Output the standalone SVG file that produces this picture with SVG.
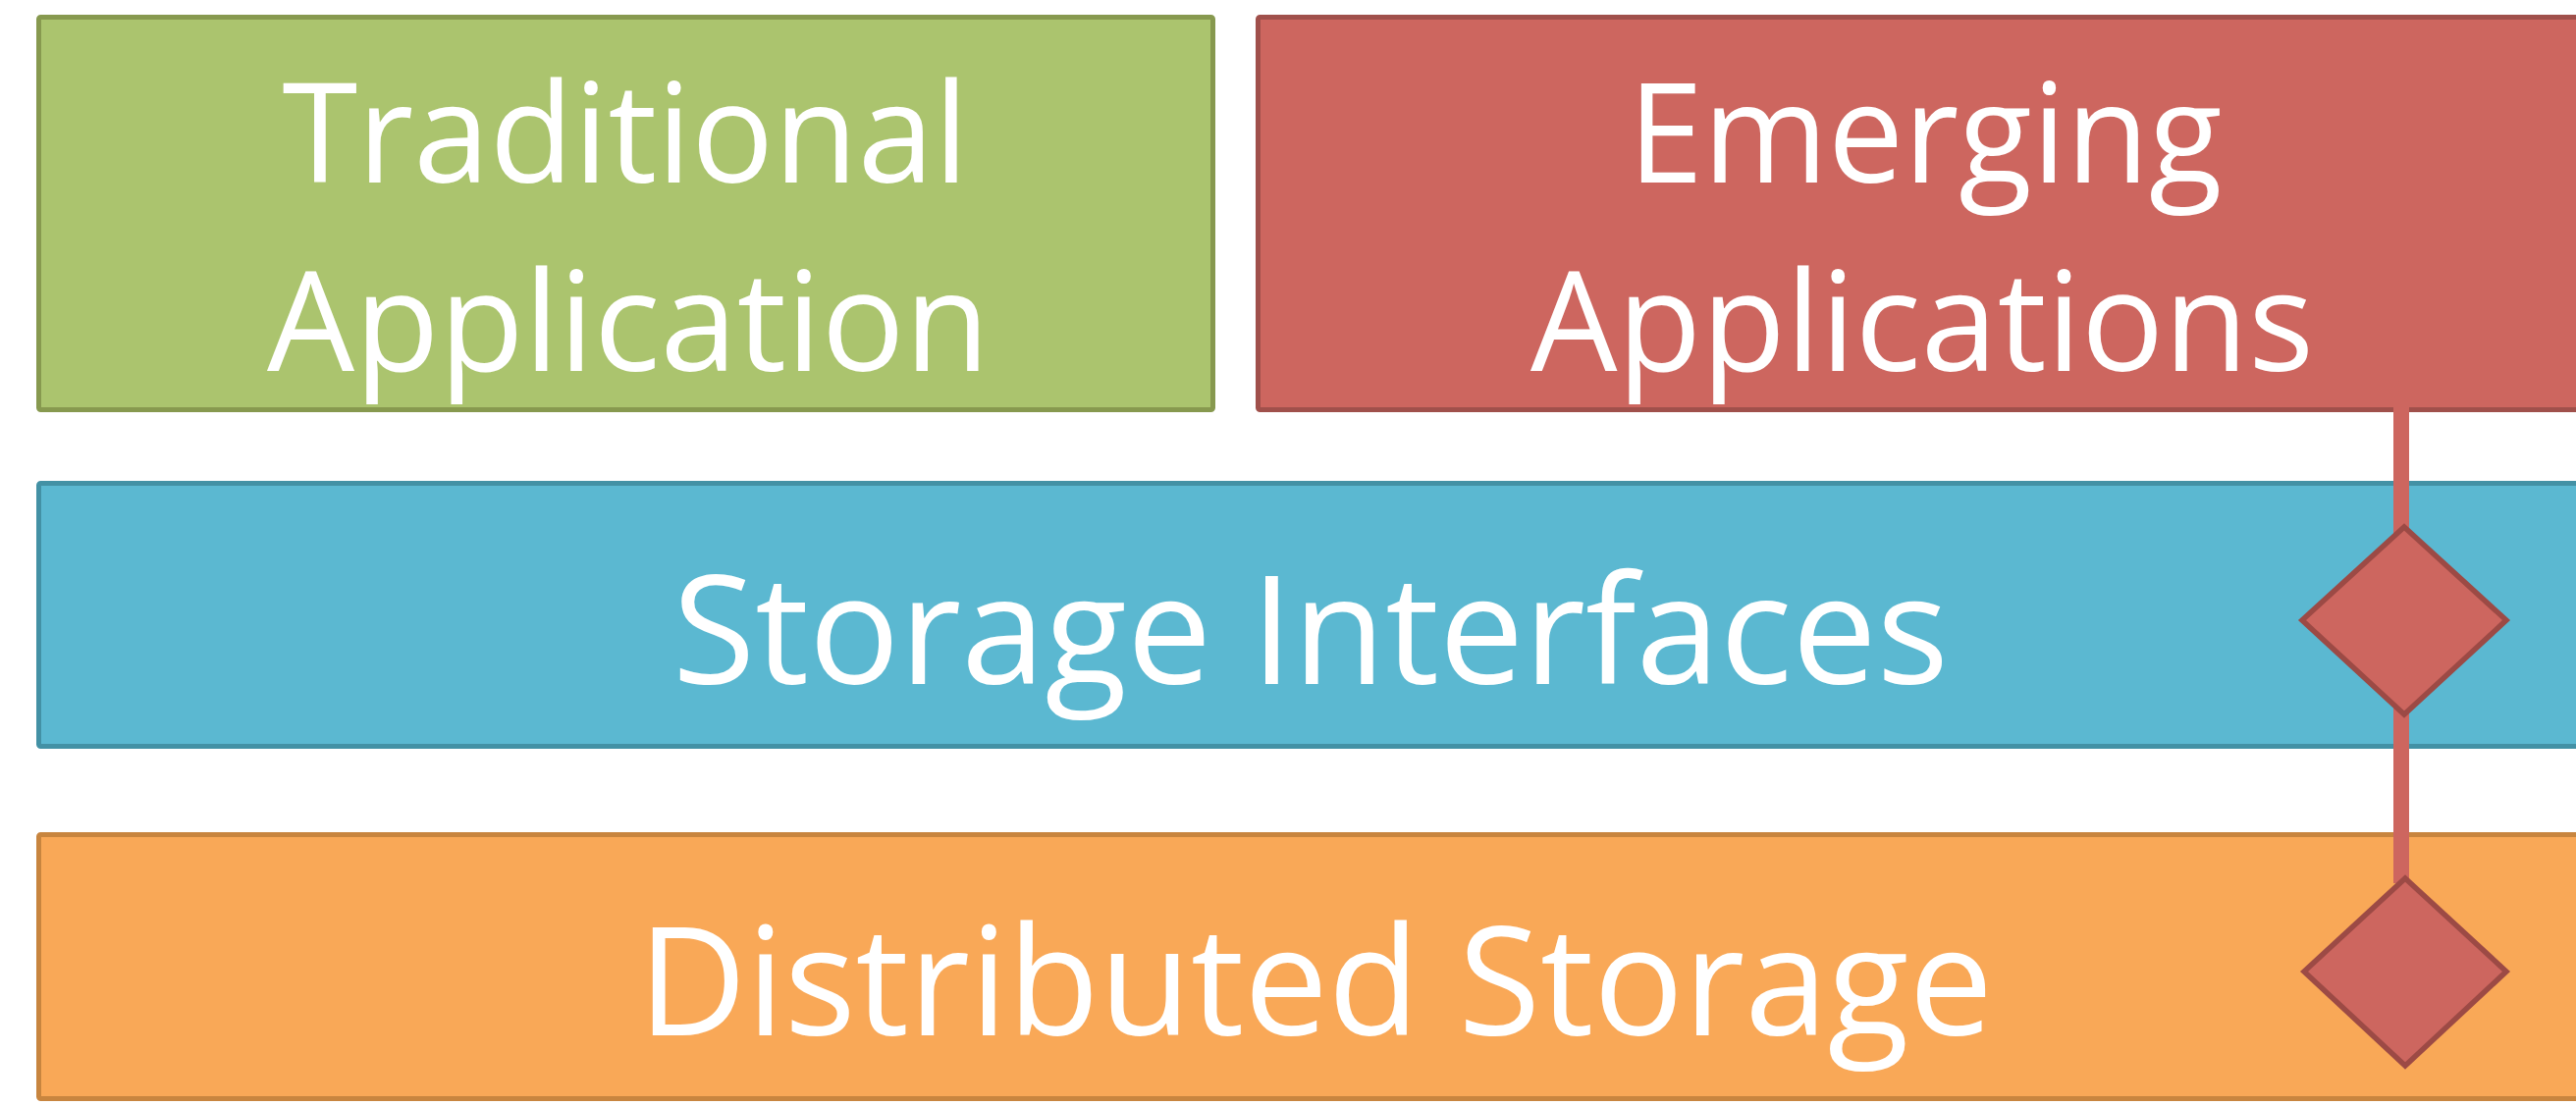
<svg xmlns="http://www.w3.org/2000/svg" width="2624" height="1126" viewBox="0 0 2624 1126">
<style>
.box{stroke-width:5;}
.lbl{font-family:"Open Sans","Liberation Sans",sans-serif;fill:#ffffff;text-anchor:middle;}
.top{font-size:141px;}
.big{font-size:154px;}
.dia{fill:#cd665f;stroke:#9c4a45;stroke-width:5.5;stroke-linejoin:miter;}
</style>
<rect width="2624" height="1126" fill="#ffffff"/>
<g id="traditional">
<rect class="box" x="39.5" y="17.5" width="1196" height="400" rx="2" fill="#abc46e" stroke="#87994f"/>
<text class="lbl top" x="637" y="186" textLength="699" lengthAdjust="spacingAndGlyphs">Traditional</text>
<text class="lbl top" x="640" y="378" textLength="736" lengthAdjust="spacingAndGlyphs">Application</text>
</g>
<g id="emerging">
<rect class="box" x="1281.5" y="17.5" width="1360" height="400" rx="2" fill="#cd665f" stroke="#a0504b"/>
<text class="lbl top" x="1961" y="186" textLength="605" lengthAdjust="spacingAndGlyphs">Emerging</text>
<text class="lbl top" x="1958" y="378" textLength="798" lengthAdjust="spacingAndGlyphs">Applications</text>
</g>
<g id="interfaces">
<rect class="box" x="39.5" y="492.5" width="2602" height="268" rx="2" fill="#5bb8d1" stroke="#4391a5"/>
<text class="lbl big" x="1335" y="697" textLength="1300" lengthAdjust="spacingAndGlyphs">Storage Interfaces</text>
</g>
<g id="storage">
<rect class="box" x="39.5" y="850.5" width="2602" height="269" rx="2" fill="#f9a857" stroke="#c8853f"/>
<text class="lbl big" x="1340" y="1055" textLength="1380" lengthAdjust="spacingAndGlyphs">Distributed Storage</text>
</g>
<g id="connectors">
<rect x="2438" y="400" width="16" height="500" fill="#cd665f"/>
<polygon class="dia" points="2449,537 2553,632 2449,728 2345,632"/>
<polygon class="dia" points="2450,895 2553,990 2450,1086 2347,990"/>
</g>
</svg>
